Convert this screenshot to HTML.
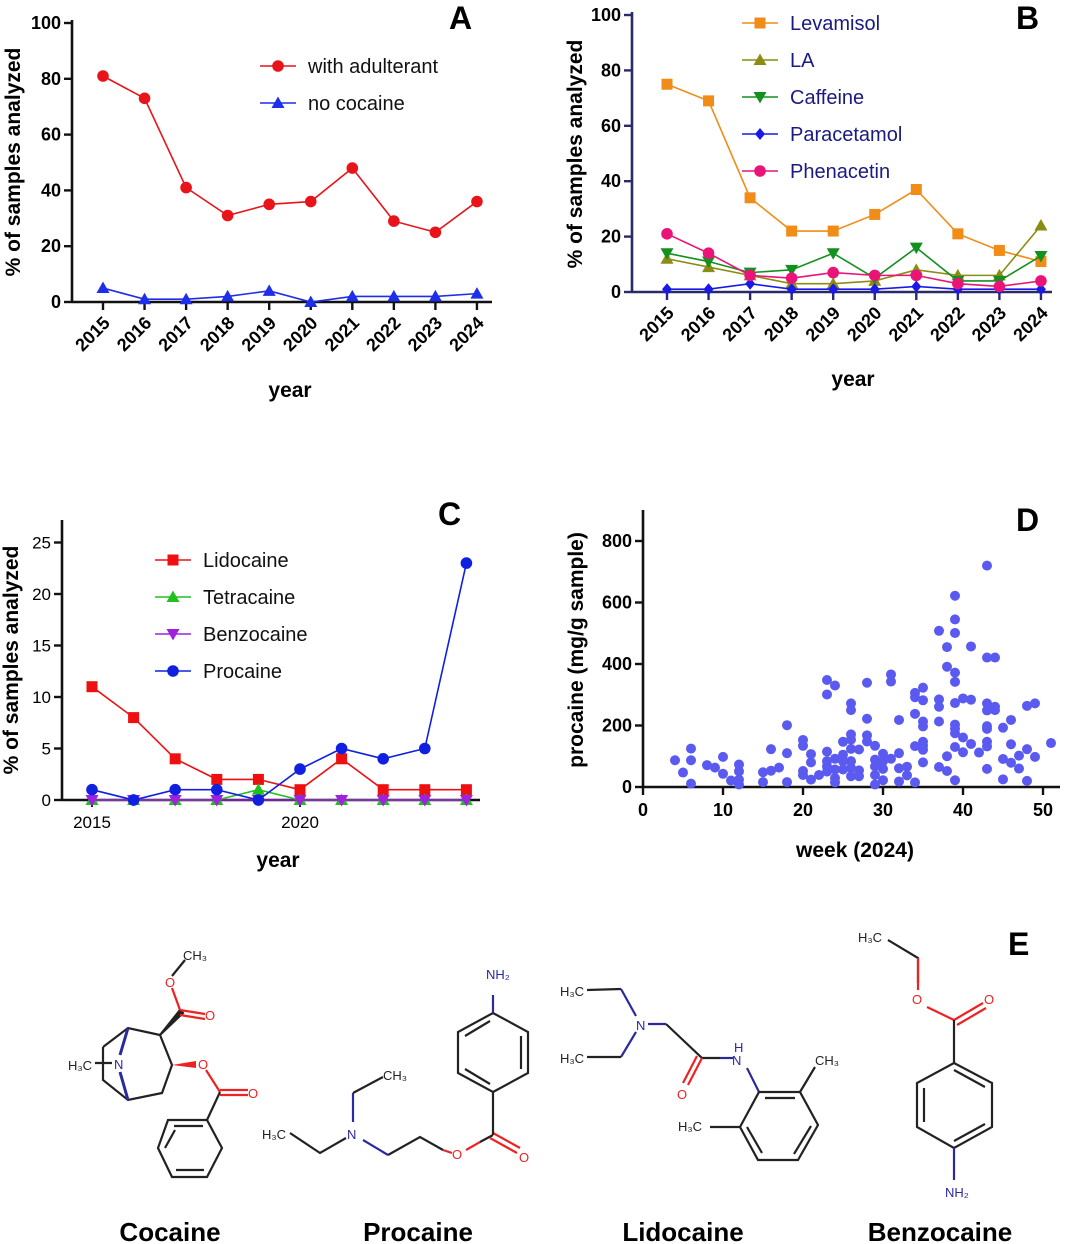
<!DOCTYPE html>
<html><head><meta charset="utf-8"><style>
body{margin:0;background:#fff}
svg{display:block;font-family:"Liberation Sans",sans-serif}
.tk{font-size:18px;font-weight:bold}
.tkr{font-size:17px}
.ttl{font-size:21px;font-weight:bold}
.lg{font-size:20px}
.pl{font-size:32px;font-weight:bold}
.nm{font-size:26px;font-weight:bold}
.at{font-size:13px}
</style></head><body>
<svg id="fig" width="1065" height="1244" viewBox="0 0 1065 1244">
<g id="chem" fill="none" stroke="#222" stroke-width="2.2">
 <g>
  <polyline points="103,1047 128,1028 160,1035 172,1065 162,1093 128,1100 103,1080 103,1047"/>
  <line x1="128" y1="1028" x2="120" y2="1055" stroke="#2a2aa0" stroke-width="3"/>
  <line x1="128" y1="1100" x2="120" y2="1072" stroke="#2a2aa0" stroke-width="3"/>
  <line x1="95" y1="1063" x2="112" y2="1063"/>
  <polygon points="160,1035 180,1010 183,1013" fill="#222"/>
  <line x1="180" y1="1010" x2="205" y2="1014" stroke="#e22"/><line x1="180" y1="1015" x2="205" y2="1019" stroke="#e22"/>
  <line x1="180" y1="1010" x2="172" y2="988" stroke="#e22"/><line x1="172" y1="976" x2="185" y2="960" stroke="#222"/>
  <polygon points="172,1065 196,1061 196,1068" fill="#e22" stroke="none"/>
  <line x1="206" y1="1070" x2="220" y2="1092" stroke="#e22"/>
  <line x1="220" y1="1090" x2="248" y2="1090" stroke="#e22"/><line x1="220" y1="1095" x2="248" y2="1095" stroke="#e22"/>
  <line x1="220" y1="1092" x2="207" y2="1120"/>
  <polygon points="168,1120 207,1120 222,1148 207,1177 172,1177 158,1148"/>
  <line x1="174" y1="1126" x2="203" y2="1126"/><line x1="176" y1="1170" x2="204" y2="1170"/><line x1="165" y1="1148" x2="175" y2="1130"/>
 </g>
 <g>
  <polyline points="290,1133 320,1153 346,1138"/>
  <line x1="353" y1="1122" x2="353" y2="1093" stroke="#2a2aa0"/>
  <polyline points="353,1093 383,1077"/>
  <line x1="363" y1="1140" x2="388" y2="1155" stroke="#2a2aa0"/>
  <polyline points="388,1155 420,1137 443,1150"/>
  <line x1="443" y1="1150" x2="452" y2="1153" stroke="#e22"/>
  <line x1="466" y1="1150" x2="480" y2="1142" stroke="#e22"/><line x1="480" y1="1142" x2="493" y2="1135"/>
  <line x1="493" y1="1133" x2="520" y2="1148" stroke="#e22"/><line x1="490" y1="1138" x2="517" y2="1153" stroke="#e22"/>
  <line x1="493" y1="1135" x2="493" y2="1092"/>
  <polygon points="493,1092 528,1073 528,1032 493,1013 458,1032 458,1073"/>
  <line x1="521" y1="1069" x2="521" y2="1036"/><line x1="465" y1="1069" x2="490" y2="1084"/><line x1="465" y1="1036" x2="490" y2="1021"/>
  <line x1="493" y1="1013" x2="493" y2="995" stroke="#2a2aa0"/>
 </g>
 <g>
  <polyline points="587,990 621,989"/><line x1="621" y1="989" x2="636" y2="1016" stroke="#2a2aa0"/>
  <line x1="636" y1="1032" x2="621" y2="1057" stroke="#2a2aa0"/><polyline points="621,1057 587,1057"/>
  <line x1="648" y1="1024" x2="666" y2="1024" stroke="#2a2aa0"/>
  <polyline points="666,1024 702,1058 720,1058"/>
  <line x1="720" y1="1058" x2="733" y2="1058" stroke="#2a2aa0"/>
  <line x1="702" y1="1058" x2="688" y2="1085" stroke="#e22"/><line x1="697" y1="1056" x2="683" y2="1083" stroke="#e22"/>
  <line x1="747" y1="1068" x2="759" y2="1092" stroke="#2a2aa0"/>
  <polygon points="759,1092 800,1092 818,1125 798,1160 758,1160 740,1127"/>
  <line x1="765" y1="1098" x2="795" y2="1098"/><line x1="811" y1="1126" x2="794" y2="1154"/><line x1="747" y1="1127" x2="762" y2="1153"/>
  <line x1="800" y1="1092" x2="815" y2="1067"/><line x1="740" y1="1127" x2="710" y2="1127"/>
 </g>
 <g>
  <polyline points="888,940 918,958 918,983"/>
  <line x1="918" y1="958" x2="918" y2="990" stroke="#e22"/>
  <line x1="927" y1="1007" x2="954" y2="1020" stroke="#e22"/>
  <line x1="954" y1="1020" x2="983" y2="1003" stroke="#e22"/><line x1="957" y1="1025" x2="986" y2="1008" stroke="#e22"/>
  <line x1="954" y1="1020" x2="954" y2="1063"/>
  <polygon points="954,1063 992,1083 992,1127 954,1148 917,1127 917,1083"/>
  <line x1="954" y1="1070" x2="985" y2="1087"/><line x1="924" y1="1088" x2="924" y2="1122"/><line x1="954" y1="1141" x2="985" y2="1124"/>
  <line x1="954" y1="1148" x2="954" y2="1180" stroke="#2a2aa0"/>
 </g>
</g>
<g class="at">
 <text x="68" y="1070" fill="#222">H₃C</text><text x="114" y="1069" fill="#2a2aa0">N</text>
 <text x="183" y="960" fill="#222">CH₃</text><text x="165" y="987" fill="#e22">O</text><text x="205" y="1020" fill="#e22">O</text>
 <text x="198" y="1069" fill="#e22">O</text><text x="248" y="1098" fill="#e22">O</text>
 <text x="262" y="1139" fill="#222">H₃C</text><text x="347" y="1139" fill="#2a2aa0">N</text><text x="383" y="1080" fill="#222">CH₃</text>
 <text x="452" y="1159" fill="#e22">O</text><text x="519" y="1162" fill="#e22">O</text><text x="486" y="979" fill="#2a2aa0">NH₂</text>
 <text x="560" y="996" fill="#222">H₃C</text><text x="560" y="1063" fill="#222">H₃C</text><text x="636" y="1030" fill="#2a2aa0">N</text>
 <text x="677" y="1099" fill="#e22">O</text><text x="734" y="1052" fill="#2a2aa0">H</text><text x="732" y="1065" fill="#2a2aa0">N</text>
 <text x="815" y="1065" fill="#222">CH₃</text><text x="678" y="1131" fill="#222">H₃C</text>
 <text x="858" y="942" fill="#222">H₃C</text><text x="912" y="1004" fill="#e22">O</text><text x="984" y="1004" fill="#e22">O</text>
 <text x="945" y="1197" fill="#2a2aa0">NH₂</text>
</g>
<g class="nm" text-anchor="middle">
 <text x="170" y="1241">Cocaine</text><text x="418" y="1241">Procaine</text><text x="683" y="1241">Lidocaine</text><text x="940" y="1241">Benzocaine</text>
</g>
<g class="pl">
 <text x="449" y="29">A</text><text x="1016" y="29">B</text><text x="438" y="525">C</text><text x="1016" y="531">D</text><text x="1008" y="955">E</text>
</g>
</svg>
<script>
const years = [2015,2016,2017,2018,2019,2020,2021,2022,2023,2024];
const aAdulterant = [81,73,41,31,35,36,48,29,25,36];
const aNoCocaine = [5,1,1,2,4,0,2,2,2,3];
const aTicks = [0,20,40,60,80,100];
const bLevamisol = [75,69,34,22,22,28,37,21,15,11];
const bLA = [12,9,6,3,3,4,8,6,6,24];
const bCaffeine = [14,11,7,8,14,5,16,4,4,13];
const bParacetamol = [1,1,3,1,1,1,2,1,1,1];
const bPhenacetin = [21,14,6,5,7,6,6,3,2,4];
const cLidocaine = [11,8,4,2,2,1,4,1,1,1];
const cTetracaine = [0,0,0,0,1,0,0,0,0,0];
const cBenzocaine = [0,0,0,0,0,0,0,0,0,0];
const cProcaine = [1,0,1,1,0,3,5,4,5,23];
const cTicks = [0,5,10,15,20,25];
const cXLabels = [2015,2020];
const dWeeks = [4,5,6,6,6,8,9,10,10,11,12,12,12,12,15,15,16,16,17,18,18,18,20,20,20,20,21,21,21,22,23,23,24,23,23,23,23,24,24,24,24,25,25,25,25,26,26,26,26,26,26,26,26,27,27,27,28,28,28,28,29,29,29,29,29,30,30,30,30,31,31,31,32,32,32,32,33,33,34,34,34,34,34,35,35,35,35,35,35,35,35,37,37,37,37,37,38,38,38,38,39,39,39,39,39,39,39,39,39,39,39,40,40,40,41,41,41,42,43,43,43,43,43,43,43,43,43,44,44,44,45,45,45,46,46,46,47,47,48,48,48,49,49,51];
const dProcaine = [87,47,125,87,11,71,63,98,43,21,73,51,24,8,48,16,123,53,63,201,110,16,153,134,52,39,107,80,24,39,348,301,330,115,84,67,50,92,57,29,15,147,105,84,57,272,250,171,154,124,84,62,35,122,54,35,339,222,168,148,134,89,67,39,8,108,84,59,22,366,343,92,218,110,61,18,66,38,306,292,238,133,15,323,282,213,197,147,134,121,80,508,285,261,213,65,455,391,100,52,622,545,501,372,342,273,203,190,175,130,22,288,161,113,457,284,140,112,720,421,272,249,198,189,147,132,59,421,261,250,193,91,25,218,139,79,102,60,264,123,20,272,98,143];
const dYTicks = [0,200,400,600,800];
const dXTicks = [0,10,20,30,40,50];

const NS='http://www.w3.org/2000/svg';
const svg=document.getElementById('fig');
function mk(tag,attrs,parent){const e=document.createElementNS(NS,tag);for(const k in attrs)e.setAttribute(k,attrs[k]);(parent||svg).appendChild(e);return e;}
function txt(s,attrs,parent){const e=mk('text',attrs,parent);e.textContent=s;return e;}
function marker(g,type,x,y,c){
 let e;
 if(type==='circle'){e=mk('circle',{cx:x,cy:y,r:5.8,fill:c},g);}
 else if(type==='square'){e=mk('rect',{x:x-5.5,y:y-5.5,width:11,height:11,fill:c},g);}
 else if(type==='tri'){e=mk('polygon',{points:`${x},${y-6.5} ${x+6.5},${y+5} ${x-6.5},${y+5}`,fill:c},g);}
 else if(type==='dtri'){e=mk('polygon',{points:`${x},${y+6.5} ${x+6.5},${y-5} ${x-6.5},${y-5}`,fill:c},g);}
 else {e=mk('polygon',{points:`${x},${y-6} ${x+5},${y} ${x},${y+6} ${x-5},${y}`,fill:c},g);}
 return e;
}
function series(g,name,vals,xs,ys,type,c){
 const sg=mk('g',{},g);
 
 
 const pts=vals.map((v,i)=>xs(i)+','+ys(v)).join(' ');
 const l=mk('polyline',{points:pts,fill:'none',stroke:c,'stroke-width':1.6},sg);
 
 
 vals.forEach((v,i)=>{const m=marker(sg,type,xs(i),ys(v),c);
  
  });
}
function legend(g,name,x,y,type,c,tc){
 const lg=mk('g',{},g);
 
 
 mk('line',{x1:x-18,y1:y,x2:x+18,y2:y,stroke:c,'stroke-width':1.6},lg);
 marker(lg,type,x,y,c);
 txt(name,{x:x+30,y:y+7,class:'lg',fill:tc},lg);
}
function yAxis(g,x,y0,y1,ticks,ys,ax,cls){
 mk('line',{x1:x,y1:y0,x2:x,y2:y1,stroke:ax,'stroke-width':2.6},g);
 ticks.forEach(t=>{mk('line',{x1:x-8,y1:ys(t),x2:x,y2:ys(t),stroke:ax,'stroke-width':2.4},g);
  txt(String(t),{x:x-11,y:ys(t)+6,class:cls||'tk','text-anchor':'end'},g);});
}
function yearAxis(g,y,xa,xb,xs,ax){
 mk('line',{x1:xa,y1:y,x2:xb,y2:y,stroke:ax,'stroke-width':2.6},g);
 years.forEach((yr,i)=>{mk('line',{x1:xs(i),y1:y,x2:xs(i),y2:y+8,stroke:ax,'stroke-width':2.4},g);
  txt(String(yr),{x:xs(i)+8,y:y+22,class:'tk','text-anchor':'end',transform:`rotate(-45 ${xs(i)+8} ${y+22})`},g);});
}

{const g=mk('g',{});
 const xs=i=>103+i*41.55, ys=v=>302-v*2.79;
 yAxis(g,72,20,302,aTicks,ys,'#111');
 yearAxis(g,302,72,492,xs,'#111');
 txt('% of samples analyzed',{x:20,y:162,class:'ttl','text-anchor':'middle',transform:'rotate(-90 20 162)'},g);
 txt('year',{x:290,y:397,class:'ttl','text-anchor':'middle'},g);
 series(g,'with-adulterant',aAdulterant,xs,ys,'circle','#e8141a');
 series(g,'no-cocaine',aNoCocaine,xs,ys,'tri','#1f2ee8');
 legend(g,'with adulterant',278,66,'circle','#e8141a','#111');
 legend(g,'no cocaine',278,103,'tri','#1f2ee8','#111');
}
{const g=mk('g',{});
 const xs=i=>667+i*41.55, ys=v=>292-v*2.77;
 yAxis(g,632,12,292,aTicks,ys,'#2a2a6a');
 yearAxis(g,292,632,1052,xs,'#2a2a6a');
 txt('% of samples analyzed',{x:582,y:154,class:'ttl','text-anchor':'middle',transform:'rotate(-90 582 154)'},g);
 txt('year',{x:853,y:386,class:'ttl','text-anchor':'middle'},g);
 series(g,'levamisol',bLevamisol,xs,ys,'square','#f28c18');
 series(g,'la',bLA,xs,ys,'tri','#8c8c14');
 series(g,'caffeine',bCaffeine,xs,ys,'dtri','#14901e');
 series(g,'paracetamol',bParacetamol,xs,ys,'diamond','#1a1ae6');
 series(g,'phenacetin',bPhenacetin,xs,ys,'circle','#ea1478');
 const tc='#1a1a80';
 legend(g,'Levamisol',760,23,'square','#f28c18',tc);
 legend(g,'LA',760,60,'tri','#8c8c14',tc);
 legend(g,'Caffeine',760,97,'dtri','#14901e',tc);
 legend(g,'Paracetamol',760,134,'diamond','#1a1ae6',tc);
 legend(g,'Phenacetin',760,171,'circle','#ea1478',tc);
}
{const g=mk('g',{});
 const xs=i=>92+i*41.6, ys=v=>800-v*10.3;
 yAxis(g,62,520,800,cTicks,ys,'#111','tkr');
 mk('line',{x1:62,y1:800,x2:480,y2:800,stroke:'#111','stroke-width':2.6},g);
 years.forEach((yr,i)=>{const big=cXLabels.includes(yr);mk('line',{x1:xs(i),y1:800,x2:xs(i),y2:big?807:804,stroke:'#111','stroke-width':2},g);
  if(big)txt(String(yr),{x:xs(i),y:828,class:'tkr','text-anchor':'middle'},g);});
 txt('% of samples analyzed',{x:18,y:660,class:'ttl','text-anchor':'middle',transform:'rotate(-90 18 660)'},g);
 txt('year',{x:278,y:867,class:'ttl','text-anchor':'middle'},g);
 series(g,'lidocaine',cLidocaine,xs,ys,'square','#ee1010');
 series(g,'tetracaine',cTetracaine,xs,ys,'tri','#20c020');
 series(g,'benzocaine',cBenzocaine,xs,ys,'dtri','#a020e0');
 series(g,'procaine',cProcaine,xs,ys,'circle','#1020e0');
 legend(g,'Lidocaine',173,560,'square','#ee1010','#111');
 legend(g,'Tetracaine',173,597,'tri','#20c020','#111');
 legend(g,'Benzocaine',173,634,'dtri','#a020e0','#111');
 legend(g,'Procaine',173,671,'circle','#1020e0','#111');
}
{const g=mk('g',{});
 const xs=w=>643+w*8, ys=v=>787-v*0.3075;
 yAxis(g,643,510,787,dYTicks,ys,'#111');
 mk('line',{x1:643,y1:787,x2:1060,y2:787,stroke:'#111','stroke-width':2.6},g);
 dXTicks.forEach(t=>{mk('line',{x1:xs(t),y1:787,x2:xs(t),y2:795,stroke:'#111','stroke-width':2.4},g);
  txt(String(t),{x:xs(t),y:816,class:'tk','text-anchor':'middle'},g);});
 txt('procaine (mg/g sample)',{x:583,y:650,class:'ttl','text-anchor':'middle',transform:'rotate(-90 583 650)'},g);
 txt('week (2024)',{x:855,y:857,class:'ttl','text-anchor':'middle'},g);
 dWeeks.forEach((w,i)=>{const c=mk('circle',{cx:xs(w),cy:ys(dProcaine[i]),r:5,fill:'#5a5af0'},g);
  
  });
}
</script>
</body></html>
